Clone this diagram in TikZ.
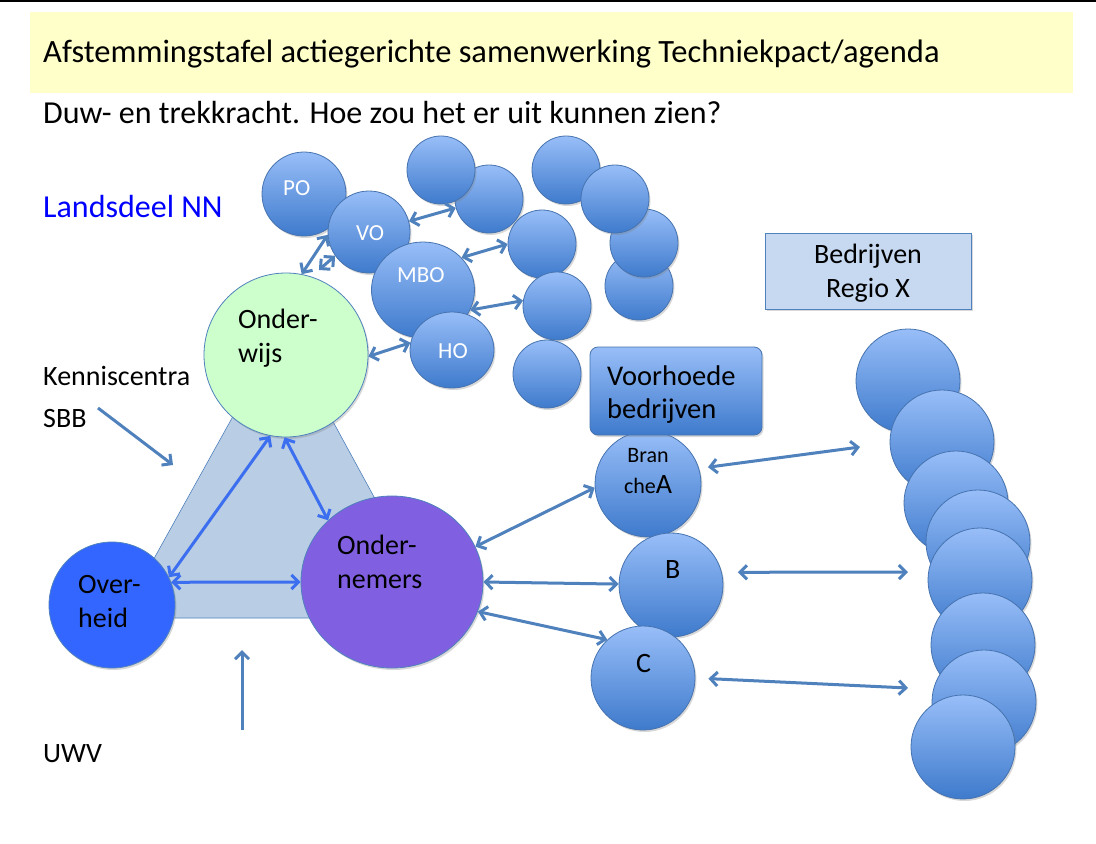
\documentclass[tikz,border=0pt]{standalone}
\usepackage{fontspec}
\setmainfont{Carlito}
\usetikzlibrary{arrows.meta,shapes.geometric,shadows}
\definecolor{steel}{RGB}{79,129,189}
\definecolor{brightb}{RGB}{60,110,240}
\definecolor{ctop}{RGB}{152,190,248}
\definecolor{cbot}{RGB}{62,122,204}
\definecolor{yel}{RGB}{255,255,202}
\definecolor{tri}{RGB}{185,205,228}
\definecolor{lgreen}{RGB}{204,255,204}
\definecolor{ovh}{RGB}{51,102,255}
\definecolor{ond}{RGB}{128,96,224}
\definecolor{regio}{RGB}{198,217,241}
\definecolor{edge}{RGB}{70,115,175}
\tikzset{
  shad/.style={drop shadow={shadow xshift=1.5pt,shadow yshift=-2pt,opacity=0.3}},
  ball/.style={circle,draw=edge,line width=0.8pt,top color=ctop,bottom color=cbot,inner sep=0pt,minimum size=#1,shad},
  eball/.style 2 args={ellipse,draw=edge,line width=0.8pt,top color=ctop,bottom color=cbot,inner sep=0pt,minimum width=#1,minimum height=#2,shad},
  txt/.style={inner sep=0pt,anchor=base west,align=left},
  bigtxt/.style={txt,font=\fontsize{32}{38}\selectfont},
  wtxt/.style={inner sep=0pt,anchor=base west,text=white,font=\fontsize{23}{26}\selectfont},
  sarr/.style={draw=steel,line width=3pt,<->},
  sarr1/.style={draw=steel,line width=3pt,->},
  barr/.style={draw=brightb,line width=3pt,<->},
}
\begin{document}
\begin{tikzpicture}[x=1pt,y=1pt,font=\fontsize{28}{34}\selectfont,
  >={Straight Barb[length=7pt,width=14pt]}]
\useasboundingbox (0,0) rectangle (1096,-844);
\fill[white] (0,0) rectangle (1096,-844);
\fill[black] (0,0) rectangle (1096,-2);
\fill[yel] (30,-12) rectangle (1073,-93);
\node[bigtxt,font=\fontsize{32.5}{38}\selectfont] (title) at (43,-62) {Afstemmingstafel actiegerichte samenwerking Techniekpact/agenda};
\node[bigtxt] (sub) at (43,-123) {Duw- en trekkracht. Hoe zou het er uit kunnen zien?};
\node[bigtxt,text={rgb,255:red,0;green,0;blue,255}] (land) at (43,-217) {Landsdeel NN};
\node[txt] (kenn) at (43,-385) {Kenniscentra};
\node[txt] (sbb) at (43,-427) {SBB};
\node[txt] (uwv) at (43,-762) {UWV};

% triangle
\filldraw[fill=tri,draw=steel,line width=0.6pt] (282,-328) -- (121,-618) -- (440,-618) -- cycle;

% top cluster
\node[ball=84pt] (PO) at (304,-194) {};
\node[ball=82pt] (VO) at (369,-232) {};
\node[eball={103pt}{96pt}] (MBO) at (423,-290) {};
\node[eball={84pt}{76pt}] (HO) at (452,-350) {};
\node[ball=68pt] (c2) at (489,-199) {};
\node[ball=68pt] (c1) at (441,-170) {};
\node[ball=68pt] (c3) at (566,-170) {};
\node[ball=68pt] (c6) at (639,-286) {};
\node[ball=68pt] (c5) at (644,-243) {};
\node[ball=68pt] (c4) at (615,-199) {};
\node[ball=68pt] (c7) at (542,-244) {};
\node[ball=68pt] (c8) at (557,-306) {};
\node[ball=68pt] (c9) at (547,-374) {};
\node[wtxt] (POt) at (283,-195) {PO};
\node[wtxt] (VOt) at (356,-240) {VO};
\node[wtxt] (MBOt) at (397,-282) {MBO};
\node[wtxt] (HOt) at (438,-358) {HO};

% main actors
\node[circle,draw=steel,line width=0.8pt,fill=lgreen,inner sep=0pt,minimum size=164pt,shad] (OW) at (286,-355) {};
\node[circle,draw=steel,line width=0.8pt,fill=ovh,inner sep=0pt,minimum size=126pt,shad] (OV) at (112,-605) {};
\node[ellipse,draw=steel,line width=0.8pt,fill=ond,inner sep=0pt,minimum width=182pt,minimum height=172pt,shad] (ON) at (392,-582) {};
\node[txt] (OWt) at (238,-362) {Onder-\\wijs};
\node[txt] (OVt) at (78,-627) {Over-\\heid};
\node[txt] (ONt) at (337,-588) {Onder-\\nemers};

% branches
\node[ball=106pt] (A) at (648,-484) {};
\node[ball=104pt] (B) at (671,-585) {};
\node[ball=104pt] (C) at (643,-678) {};
\node[draw=edge,line width=0.8pt,top color=ctop,bottom color=cbot,rounded corners=8pt,minimum width=172pt,minimum height=88pt,inner sep=0pt,shad] (VH) at (676,-391) {};
\node[txt,font=\fontsize{28.5}{33}\selectfont] (VHt) at (607,-418) {Voorhoede\\bedrijven};
\node[inner sep=0pt,anchor=base,align=center,font=\fontsize{22}{31}\selectfont] (At) at (648,-493) {Bran\\che{\fontsize{28}{31}\selectfont A}};
\node[txt] (Bt) at (665,-578) {B};
\node[txt] (Ct) at (636,-672) {C};

% Bedrijven Regio X
\node[draw=steel,line width=0.8pt,fill=regio,minimum width=206pt,minimum height=76pt,inner sep=0pt,shad] (REG) at (868,-271) {};
\node[inner sep=0pt,anchor=base,align=center] (REGt) at (868,-297) {Bedrijven\\Regio X};

% right stack
\node[ball=104pt] (R1) at (908,-381) {};
\node[ball=104pt] (R2) at (942,-442) {};
\node[ball=104pt] (R3) at (956,-503) {};
\node[ball=104pt] (R4) at (978,-542) {};
\node[ball=104pt] (R5) at (980,-580) {};
\node[ball=104pt] (R6) at (983,-645) {};
\node[ball=104pt] (R7) at (984,-702) {};
\node[ball=104pt] (R8) at (963,-747) {};

% cluster arrows
\draw[sarr] (VO.15) -- (c2.195);
\draw[sarr] (MBO.40) -- (c7.180);
\draw[sarr] (MBO.-23) -- (c8.171);
\draw[sarr] (OW.-1) -- (HO.170);
\draw[sarr] (OW.79) -- (VO.184);
\draw[sarr,shorten <=10pt] (OW.72) -- (VO.215);

% triangle arrows
\draw[barr] (OW.259) -- (OV.26);
\draw[barr] (OW.269) -- (ON.136);
\draw[barr] (OV.21) -- (ON.180);

% ondernemers to branches
\draw[sarr] (ON.23) -- (A.184);
\draw[sarr] (ON.0) -- (B.179);
\draw[sarr] (ON.-19) -- (C.133);

% branches to regio
\coordinate (rA) at (860,-447);
\coordinate (rB) at (908,-572);
\coordinate (rC) at (908,-688);
\draw[sarr,shorten <=9pt] (A.17) -- (rA);
\draw[sarr,shorten <=16pt] (B.14) -- (rB);
\draw[sarr,shorten <=13pt] (C.0) -- (rC);

% side arrows
\coordinate (k1) at (98,-408);
\coordinate (k2) at (173,-465);
\draw[sarr1] (k1) -- (k2);
\coordinate (u1) at (242,-730);
\coordinate (u2) at (242,-650);
\draw[sarr1] (u1) -- (u2);
\end{tikzpicture}
\end{document}
